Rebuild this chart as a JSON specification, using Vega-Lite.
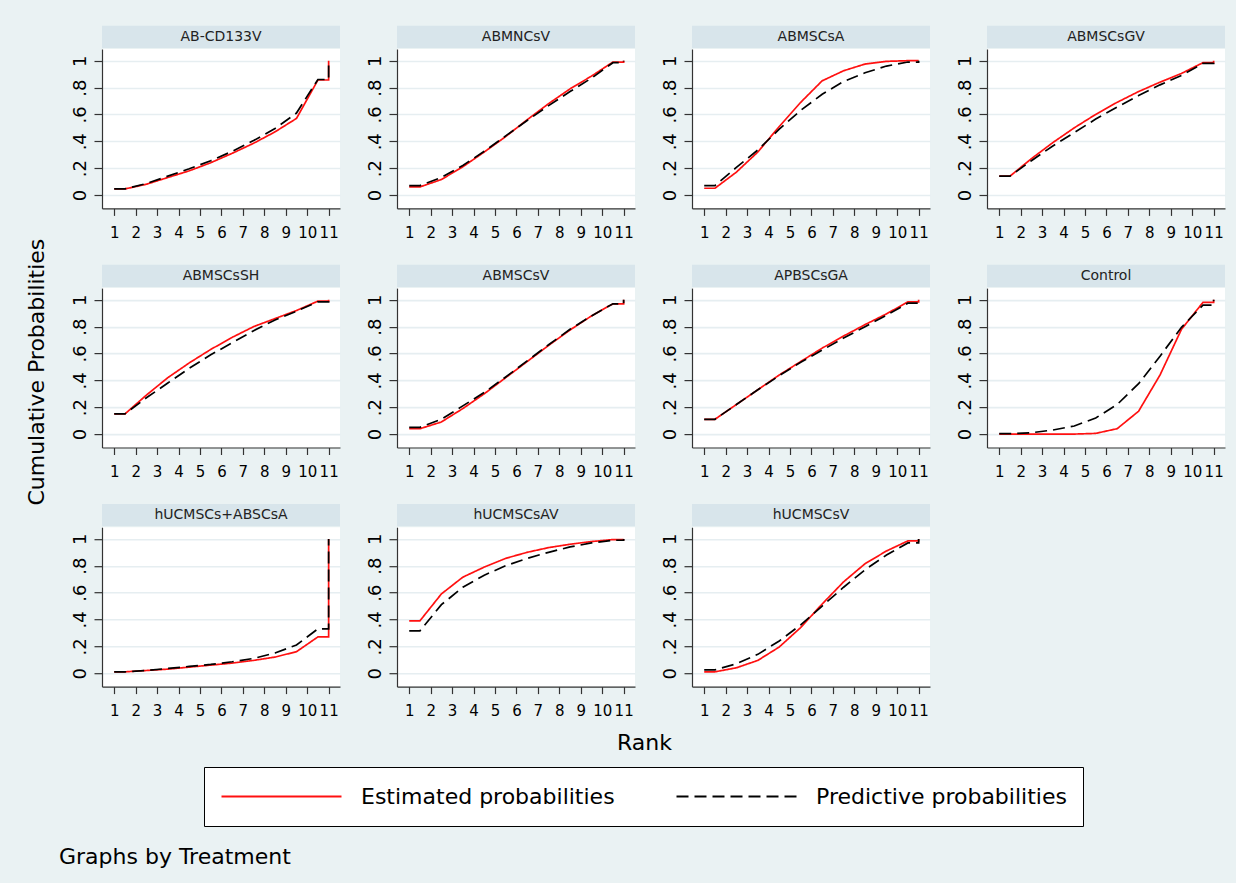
{
  "$schema": "https://vega.github.io/schema/vega-lite/v6.json",
  "background": "#EAF2F3",
  "padding": {"left": 25, "top": 25, "right": 13, "bottom": 17},
  "config": {
    "font": "DejaVu Sans",
    "view": {"fill": "white", "stroke": null},
    "concat": {"spacing": 0},
    "axis": {"labelOverlap": false},
    "header": {"labels": false, "labelFontSize": 0.01, "labelPadding": 0, "labelColor": "transparent"},
    "headerFacet": {"labels": false, "labelFontSize": 0.01, "labelPadding": 0, "labelColor": "transparent"},
    "title": {"font": "DejaVu Sans", "fontWeight": "normal", "color": "black", "fontSize": 22}
  },
  "data": {"values": [
{"t":"AB-CD133V","s":"Estimated probabilities","r":1,"p":0.045},{"t":"AB-CD133V","s":"Estimated probabilities","r":1.5,"p":0.045},{"t":"AB-CD133V","s":"Estimated probabilities","r":2.5,"p":0.08},{"t":"AB-CD133V","s":"Estimated probabilities","r":3.5,"p":0.13},{"t":"AB-CD133V","s":"Estimated probabilities","r":4.5,"p":0.18},{"t":"AB-CD133V","s":"Estimated probabilities","r":5.5,"p":0.24},{"t":"AB-CD133V","s":"Estimated probabilities","r":6.5,"p":0.31},{"t":"AB-CD133V","s":"Estimated probabilities","r":7.5,"p":0.385},{"t":"AB-CD133V","s":"Estimated probabilities","r":8.5,"p":0.47},{"t":"AB-CD133V","s":"Estimated probabilities","r":9.5,"p":0.57},{"t":"AB-CD133V","s":"Estimated probabilities","r":10.5,"p":0.856},{"t":"AB-CD133V","s":"Estimated probabilities","r":11,"p":0.856},{"t":"AB-CD133V","s":"Estimated probabilities","r":11,"p":1},
{"t":"AB-CD133V","s":"Predictive probabilities","r":1,"p":0.045},{"t":"AB-CD133V","s":"Predictive probabilities","r":1.5,"p":0.045},{"t":"AB-CD133V","s":"Predictive probabilities","r":2.5,"p":0.085},{"t":"AB-CD133V","s":"Predictive probabilities","r":3.5,"p":0.14},{"t":"AB-CD133V","s":"Predictive probabilities","r":4.5,"p":0.195},{"t":"AB-CD133V","s":"Predictive probabilities","r":5.5,"p":0.255},{"t":"AB-CD133V","s":"Predictive probabilities","r":6.5,"p":0.325},{"t":"AB-CD133V","s":"Predictive probabilities","r":7.5,"p":0.405},{"t":"AB-CD133V","s":"Predictive probabilities","r":8.5,"p":0.495},{"t":"AB-CD133V","s":"Predictive probabilities","r":9.5,"p":0.61},{"t":"AB-CD133V","s":"Predictive probabilities","r":10.5,"p":0.86},{"t":"AB-CD133V","s":"Predictive probabilities","r":11,"p":0.86},{"t":"AB-CD133V","s":"Predictive probabilities","r":11,"p":1},
{"t":"ABMNCsV","s":"Estimated probabilities","r":1,"p":0.06},{"t":"ABMNCsV","s":"Estimated probabilities","r":1.5,"p":0.06},{"t":"ABMNCsV","s":"Estimated probabilities","r":2.5,"p":0.115},{"t":"ABMNCsV","s":"Estimated probabilities","r":3.5,"p":0.21},{"t":"ABMNCsV","s":"Estimated probabilities","r":4.5,"p":0.32},{"t":"ABMNCsV","s":"Estimated probabilities","r":5.5,"p":0.435},{"t":"ABMNCsV","s":"Estimated probabilities","r":6.5,"p":0.56},{"t":"ABMNCsV","s":"Estimated probabilities","r":7.5,"p":0.68},{"t":"ABMNCsV","s":"Estimated probabilities","r":8.5,"p":0.79},{"t":"ABMNCsV","s":"Estimated probabilities","r":9.5,"p":0.885},{"t":"ABMNCsV","s":"Estimated probabilities","r":10.5,"p":0.99},{"t":"ABMNCsV","s":"Estimated probabilities","r":11,"p":0.99},{"t":"ABMNCsV","s":"Estimated probabilities","r":11,"p":1},
{"t":"ABMNCsV","s":"Predictive probabilities","r":1,"p":0.07},{"t":"ABMNCsV","s":"Predictive probabilities","r":1.5,"p":0.07},{"t":"ABMNCsV","s":"Predictive probabilities","r":2.5,"p":0.13},{"t":"ABMNCsV","s":"Predictive probabilities","r":3.5,"p":0.22},{"t":"ABMNCsV","s":"Predictive probabilities","r":4.5,"p":0.325},{"t":"ABMNCsV","s":"Predictive probabilities","r":5.5,"p":0.44},{"t":"ABMNCsV","s":"Predictive probabilities","r":6.5,"p":0.555},{"t":"ABMNCsV","s":"Predictive probabilities","r":7.5,"p":0.665},{"t":"ABMNCsV","s":"Predictive probabilities","r":8.5,"p":0.77},{"t":"ABMNCsV","s":"Predictive probabilities","r":9.5,"p":0.87},{"t":"ABMNCsV","s":"Predictive probabilities","r":10.5,"p":0.985},{"t":"ABMNCsV","s":"Predictive probabilities","r":11,"p":0.985},{"t":"ABMNCsV","s":"Predictive probabilities","r":11,"p":1},
{"t":"ABMSCsA","s":"Estimated probabilities","r":1,"p":0.05},{"t":"ABMSCsA","s":"Estimated probabilities","r":1.5,"p":0.05},{"t":"ABMSCsA","s":"Estimated probabilities","r":2.5,"p":0.17},{"t":"ABMSCsA","s":"Estimated probabilities","r":3.5,"p":0.32},{"t":"ABMSCsA","s":"Estimated probabilities","r":4.5,"p":0.51},{"t":"ABMSCsA","s":"Estimated probabilities","r":5.5,"p":0.69},{"t":"ABMSCsA","s":"Estimated probabilities","r":6.5,"p":0.85},{"t":"ABMSCsA","s":"Estimated probabilities","r":7.5,"p":0.925},{"t":"ABMSCsA","s":"Estimated probabilities","r":8.5,"p":0.975},{"t":"ABMSCsA","s":"Estimated probabilities","r":9.5,"p":0.995},{"t":"ABMSCsA","s":"Estimated probabilities","r":10.5,"p":1},{"t":"ABMSCsA","s":"Estimated probabilities","r":11,"p":1},{"t":"ABMSCsA","s":"Estimated probabilities","r":11,"p":1},
{"t":"ABMSCsA","s":"Predictive probabilities","r":1,"p":0.07},{"t":"ABMSCsA","s":"Predictive probabilities","r":1.5,"p":0.07},{"t":"ABMSCsA","s":"Predictive probabilities","r":2.5,"p":0.205},{"t":"ABMSCsA","s":"Predictive probabilities","r":3.5,"p":0.335},{"t":"ABMSCsA","s":"Predictive probabilities","r":4.5,"p":0.49},{"t":"ABMSCsA","s":"Predictive probabilities","r":5.5,"p":0.63},{"t":"ABMSCsA","s":"Predictive probabilities","r":6.5,"p":0.75},{"t":"ABMSCsA","s":"Predictive probabilities","r":7.5,"p":0.845},{"t":"ABMSCsA","s":"Predictive probabilities","r":8.5,"p":0.91},{"t":"ABMSCsA","s":"Predictive probabilities","r":9.5,"p":0.96},{"t":"ABMSCsA","s":"Predictive probabilities","r":10.5,"p":0.99},{"t":"ABMSCsA","s":"Predictive probabilities","r":11,"p":0.99},{"t":"ABMSCsA","s":"Predictive probabilities","r":11,"p":1},
{"t":"ABMSCsGV","s":"Estimated probabilities","r":1,"p":0.14},{"t":"ABMSCsGV","s":"Estimated probabilities","r":1.5,"p":0.14},{"t":"ABMSCsGV","s":"Estimated probabilities","r":2.5,"p":0.27},{"t":"ABMSCsGV","s":"Estimated probabilities","r":3.5,"p":0.39},{"t":"ABMSCsGV","s":"Estimated probabilities","r":4.5,"p":0.5},{"t":"ABMSCsGV","s":"Estimated probabilities","r":5.5,"p":0.6},{"t":"ABMSCsGV","s":"Estimated probabilities","r":6.5,"p":0.69},{"t":"ABMSCsGV","s":"Estimated probabilities","r":7.5,"p":0.77},{"t":"ABMSCsGV","s":"Estimated probabilities","r":8.5,"p":0.84},{"t":"ABMSCsGV","s":"Estimated probabilities","r":9.5,"p":0.905},{"t":"ABMSCsGV","s":"Estimated probabilities","r":10.5,"p":0.985},{"t":"ABMSCsGV","s":"Estimated probabilities","r":11,"p":0.985},{"t":"ABMSCsGV","s":"Estimated probabilities","r":11,"p":1},
{"t":"ABMSCsGV","s":"Predictive probabilities","r":1,"p":0.14},{"t":"ABMSCsGV","s":"Predictive probabilities","r":1.5,"p":0.14},{"t":"ABMSCsGV","s":"Predictive probabilities","r":2.5,"p":0.255},{"t":"ABMSCsGV","s":"Predictive probabilities","r":3.5,"p":0.365},{"t":"ABMSCsGV","s":"Predictive probabilities","r":4.5,"p":0.465},{"t":"ABMSCsGV","s":"Predictive probabilities","r":5.5,"p":0.565},{"t":"ABMSCsGV","s":"Predictive probabilities","r":6.5,"p":0.655},{"t":"ABMSCsGV","s":"Predictive probabilities","r":7.5,"p":0.74},{"t":"ABMSCsGV","s":"Predictive probabilities","r":8.5,"p":0.82},{"t":"ABMSCsGV","s":"Predictive probabilities","r":9.5,"p":0.89},{"t":"ABMSCsGV","s":"Predictive probabilities","r":10.5,"p":0.98},{"t":"ABMSCsGV","s":"Predictive probabilities","r":11,"p":0.98},{"t":"ABMSCsGV","s":"Predictive probabilities","r":11,"p":1},
{"t":"ABMSCsSH","s":"Estimated probabilities","r":1,"p":0.15},{"t":"ABMSCsSH","s":"Estimated probabilities","r":1.5,"p":0.15},{"t":"ABMSCsSH","s":"Estimated probabilities","r":2.5,"p":0.29},{"t":"ABMSCsSH","s":"Estimated probabilities","r":3.5,"p":0.42},{"t":"ABMSCsSH","s":"Estimated probabilities","r":4.5,"p":0.53},{"t":"ABMSCsSH","s":"Estimated probabilities","r":5.5,"p":0.63},{"t":"ABMSCsSH","s":"Estimated probabilities","r":6.5,"p":0.72},{"t":"ABMSCsSH","s":"Estimated probabilities","r":7.5,"p":0.8},{"t":"ABMSCsSH","s":"Estimated probabilities","r":8.5,"p":0.86},{"t":"ABMSCsSH","s":"Estimated probabilities","r":9.5,"p":0.92},{"t":"ABMSCsSH","s":"Estimated probabilities","r":10.5,"p":0.99},{"t":"ABMSCsSH","s":"Estimated probabilities","r":11,"p":0.99},{"t":"ABMSCsSH","s":"Estimated probabilities","r":11,"p":1},
{"t":"ABMSCsSH","s":"Predictive probabilities","r":1,"p":0.15},{"t":"ABMSCsSH","s":"Predictive probabilities","r":1.5,"p":0.15},{"t":"ABMSCsSH","s":"Predictive probabilities","r":2.5,"p":0.27},{"t":"ABMSCsSH","s":"Predictive probabilities","r":3.5,"p":0.38},{"t":"ABMSCsSH","s":"Predictive probabilities","r":4.5,"p":0.49},{"t":"ABMSCsSH","s":"Predictive probabilities","r":5.5,"p":0.59},{"t":"ABMSCsSH","s":"Predictive probabilities","r":6.5,"p":0.68},{"t":"ABMSCsSH","s":"Predictive probabilities","r":7.5,"p":0.77},{"t":"ABMSCsSH","s":"Predictive probabilities","r":8.5,"p":0.85},{"t":"ABMSCsSH","s":"Predictive probabilities","r":9.5,"p":0.915},{"t":"ABMSCsSH","s":"Predictive probabilities","r":10.5,"p":0.985},{"t":"ABMSCsSH","s":"Predictive probabilities","r":11,"p":0.985},{"t":"ABMSCsSH","s":"Predictive probabilities","r":11,"p":1},
{"t":"ABMSCsV","s":"Estimated probabilities","r":1,"p":0.04},{"t":"ABMSCsV","s":"Estimated probabilities","r":1.5,"p":0.04},{"t":"ABMSCsV","s":"Estimated probabilities","r":2.5,"p":0.09},{"t":"ABMSCsV","s":"Estimated probabilities","r":3.5,"p":0.19},{"t":"ABMSCsV","s":"Estimated probabilities","r":4.5,"p":0.3},{"t":"ABMSCsV","s":"Estimated probabilities","r":5.5,"p":0.42},{"t":"ABMSCsV","s":"Estimated probabilities","r":6.5,"p":0.54},{"t":"ABMSCsV","s":"Estimated probabilities","r":7.5,"p":0.66},{"t":"ABMSCsV","s":"Estimated probabilities","r":8.5,"p":0.775},{"t":"ABMSCsV","s":"Estimated probabilities","r":9.5,"p":0.88},{"t":"ABMSCsV","s":"Estimated probabilities","r":10.5,"p":0.97},{"t":"ABMSCsV","s":"Estimated probabilities","r":11,"p":0.97},{"t":"ABMSCsV","s":"Estimated probabilities","r":11,"p":1},
{"t":"ABMSCsV","s":"Predictive probabilities","r":1,"p":0.05},{"t":"ABMSCsV","s":"Predictive probabilities","r":1.5,"p":0.05},{"t":"ABMSCsV","s":"Predictive probabilities","r":2.5,"p":0.11},{"t":"ABMSCsV","s":"Predictive probabilities","r":3.5,"p":0.21},{"t":"ABMSCsV","s":"Predictive probabilities","r":4.5,"p":0.31},{"t":"ABMSCsV","s":"Predictive probabilities","r":5.5,"p":0.425},{"t":"ABMSCsV","s":"Predictive probabilities","r":6.5,"p":0.545},{"t":"ABMSCsV","s":"Predictive probabilities","r":7.5,"p":0.665},{"t":"ABMSCsV","s":"Predictive probabilities","r":8.5,"p":0.78},{"t":"ABMSCsV","s":"Predictive probabilities","r":9.5,"p":0.88},{"t":"ABMSCsV","s":"Predictive probabilities","r":10.5,"p":0.97},{"t":"ABMSCsV","s":"Predictive probabilities","r":11,"p":0.97},{"t":"ABMSCsV","s":"Predictive probabilities","r":11,"p":1},
{"t":"APBSCsGA","s":"Estimated probabilities","r":1,"p":0.11},{"t":"APBSCsGA","s":"Estimated probabilities","r":1.5,"p":0.11},{"t":"APBSCsGA","s":"Estimated probabilities","r":2.5,"p":0.22},{"t":"APBSCsGA","s":"Estimated probabilities","r":3.5,"p":0.33},{"t":"APBSCsGA","s":"Estimated probabilities","r":4.5,"p":0.44},{"t":"APBSCsGA","s":"Estimated probabilities","r":5.5,"p":0.54},{"t":"APBSCsGA","s":"Estimated probabilities","r":6.5,"p":0.64},{"t":"APBSCsGA","s":"Estimated probabilities","r":7.5,"p":0.73},{"t":"APBSCsGA","s":"Estimated probabilities","r":8.5,"p":0.815},{"t":"APBSCsGA","s":"Estimated probabilities","r":9.5,"p":0.895},{"t":"APBSCsGA","s":"Estimated probabilities","r":10.5,"p":0.985},{"t":"APBSCsGA","s":"Estimated probabilities","r":11,"p":0.985},{"t":"APBSCsGA","s":"Estimated probabilities","r":11,"p":1},
{"t":"APBSCsGA","s":"Predictive probabilities","r":1,"p":0.11},{"t":"APBSCsGA","s":"Predictive probabilities","r":1.5,"p":0.11},{"t":"APBSCsGA","s":"Predictive probabilities","r":2.5,"p":0.22},{"t":"APBSCsGA","s":"Predictive probabilities","r":3.5,"p":0.33},{"t":"APBSCsGA","s":"Predictive probabilities","r":4.5,"p":0.435},{"t":"APBSCsGA","s":"Predictive probabilities","r":5.5,"p":0.535},{"t":"APBSCsGA","s":"Predictive probabilities","r":6.5,"p":0.625},{"t":"APBSCsGA","s":"Predictive probabilities","r":7.5,"p":0.715},{"t":"APBSCsGA","s":"Predictive probabilities","r":8.5,"p":0.8},{"t":"APBSCsGA","s":"Predictive probabilities","r":9.5,"p":0.885},{"t":"APBSCsGA","s":"Predictive probabilities","r":10.5,"p":0.975},{"t":"APBSCsGA","s":"Predictive probabilities","r":11,"p":0.975},{"t":"APBSCsGA","s":"Predictive probabilities","r":11,"p":1},
{"t":"Control","s":"Estimated probabilities","r":1,"p":0},{"t":"Control","s":"Estimated probabilities","r":1.5,"p":0},{"t":"Control","s":"Estimated probabilities","r":2.5,"p":0},{"t":"Control","s":"Estimated probabilities","r":3.5,"p":0},{"t":"Control","s":"Estimated probabilities","r":4.5,"p":0},{"t":"Control","s":"Estimated probabilities","r":5.5,"p":0.005},{"t":"Control","s":"Estimated probabilities","r":6.5,"p":0.04},{"t":"Control","s":"Estimated probabilities","r":7.5,"p":0.17},{"t":"Control","s":"Estimated probabilities","r":8.5,"p":0.44},{"t":"Control","s":"Estimated probabilities","r":9.5,"p":0.78},{"t":"Control","s":"Estimated probabilities","r":10.5,"p":0.98},{"t":"Control","s":"Estimated probabilities","r":11,"p":0.98},{"t":"Control","s":"Estimated probabilities","r":11,"p":1},
{"t":"Control","s":"Predictive probabilities","r":1,"p":0.003},{"t":"Control","s":"Predictive probabilities","r":1.5,"p":0.003},{"t":"Control","s":"Predictive probabilities","r":2.5,"p":0.01},{"t":"Control","s":"Predictive probabilities","r":3.5,"p":0.03},{"t":"Control","s":"Predictive probabilities","r":4.5,"p":0.06},{"t":"Control","s":"Predictive probabilities","r":5.5,"p":0.12},{"t":"Control","s":"Predictive probabilities","r":6.5,"p":0.22},{"t":"Control","s":"Predictive probabilities","r":7.5,"p":0.375},{"t":"Control","s":"Predictive probabilities","r":8.5,"p":0.58},{"t":"Control","s":"Predictive probabilities","r":9.5,"p":0.795},{"t":"Control","s":"Predictive probabilities","r":10.5,"p":0.96},{"t":"Control","s":"Predictive probabilities","r":11,"p":0.96},{"t":"Control","s":"Predictive probabilities","r":11,"p":1},
{"t":"hUCMSCs+ABSCsA","s":"Estimated probabilities","r":1,"p":0.01},{"t":"hUCMSCs+ABSCsA","s":"Estimated probabilities","r":1.5,"p":0.01},{"t":"hUCMSCs+ABSCsA","s":"Estimated probabilities","r":2.5,"p":0.02},{"t":"hUCMSCs+ABSCsA","s":"Estimated probabilities","r":3.5,"p":0.03},{"t":"hUCMSCs+ABSCsA","s":"Estimated probabilities","r":4.5,"p":0.045},{"t":"hUCMSCs+ABSCsA","s":"Estimated probabilities","r":5.5,"p":0.06},{"t":"hUCMSCs+ABSCsA","s":"Estimated probabilities","r":6.5,"p":0.075},{"t":"hUCMSCs+ABSCsA","s":"Estimated probabilities","r":7.5,"p":0.095},{"t":"hUCMSCs+ABSCsA","s":"Estimated probabilities","r":8.5,"p":0.12},{"t":"hUCMSCs+ABSCsA","s":"Estimated probabilities","r":9.5,"p":0.16},{"t":"hUCMSCs+ABSCsA","s":"Estimated probabilities","r":10.5,"p":0.27},{"t":"hUCMSCs+ABSCsA","s":"Estimated probabilities","r":11,"p":0.27},{"t":"hUCMSCs+ABSCsA","s":"Estimated probabilities","r":11,"p":1},
{"t":"hUCMSCs+ABSCsA","s":"Predictive probabilities","r":1,"p":0.01},{"t":"hUCMSCs+ABSCsA","s":"Predictive probabilities","r":1.5,"p":0.01},{"t":"hUCMSCs+ABSCsA","s":"Predictive probabilities","r":2.5,"p":0.02},{"t":"hUCMSCs+ABSCsA","s":"Predictive probabilities","r":3.5,"p":0.035},{"t":"hUCMSCs+ABSCsA","s":"Predictive probabilities","r":4.5,"p":0.05},{"t":"hUCMSCs+ABSCsA","s":"Predictive probabilities","r":5.5,"p":0.065},{"t":"hUCMSCs+ABSCsA","s":"Predictive probabilities","r":6.5,"p":0.085},{"t":"hUCMSCs+ABSCsA","s":"Predictive probabilities","r":7.5,"p":0.11},{"t":"hUCMSCs+ABSCsA","s":"Predictive probabilities","r":8.5,"p":0.15},{"t":"hUCMSCs+ABSCsA","s":"Predictive probabilities","r":9.5,"p":0.21},{"t":"hUCMSCs+ABSCsA","s":"Predictive probabilities","r":10.5,"p":0.33},{"t":"hUCMSCs+ABSCsA","s":"Predictive probabilities","r":11,"p":0.33},{"t":"hUCMSCs+ABSCsA","s":"Predictive probabilities","r":11,"p":1},
{"t":"hUCMSCsAV","s":"Estimated probabilities","r":1,"p":0.39},{"t":"hUCMSCsAV","s":"Estimated probabilities","r":1.5,"p":0.39},{"t":"hUCMSCsAV","s":"Estimated probabilities","r":2.5,"p":0.59},{"t":"hUCMSCsAV","s":"Estimated probabilities","r":3.5,"p":0.715},{"t":"hUCMSCsAV","s":"Estimated probabilities","r":4.5,"p":0.79},{"t":"hUCMSCsAV","s":"Estimated probabilities","r":5.5,"p":0.855},{"t":"hUCMSCsAV","s":"Estimated probabilities","r":6.5,"p":0.9},{"t":"hUCMSCsAV","s":"Estimated probabilities","r":7.5,"p":0.935},{"t":"hUCMSCsAV","s":"Estimated probabilities","r":8.5,"p":0.96},{"t":"hUCMSCsAV","s":"Estimated probabilities","r":9.5,"p":0.98},{"t":"hUCMSCsAV","s":"Estimated probabilities","r":10.5,"p":0.995},{"t":"hUCMSCsAV","s":"Estimated probabilities","r":11,"p":0.995},{"t":"hUCMSCsAV","s":"Estimated probabilities","r":11,"p":1},
{"t":"hUCMSCsAV","s":"Predictive probabilities","r":1,"p":0.315},{"t":"hUCMSCsAV","s":"Predictive probabilities","r":1.5,"p":0.315},{"t":"hUCMSCsAV","s":"Predictive probabilities","r":2.5,"p":0.51},{"t":"hUCMSCsAV","s":"Predictive probabilities","r":3.5,"p":0.64},{"t":"hUCMSCsAV","s":"Predictive probabilities","r":4.5,"p":0.73},{"t":"hUCMSCsAV","s":"Predictive probabilities","r":5.5,"p":0.8},{"t":"hUCMSCsAV","s":"Predictive probabilities","r":6.5,"p":0.855},{"t":"hUCMSCsAV","s":"Predictive probabilities","r":7.5,"p":0.9},{"t":"hUCMSCsAV","s":"Predictive probabilities","r":8.5,"p":0.94},{"t":"hUCMSCsAV","s":"Predictive probabilities","r":9.5,"p":0.97},{"t":"hUCMSCsAV","s":"Predictive probabilities","r":10.5,"p":0.99},{"t":"hUCMSCsAV","s":"Predictive probabilities","r":11,"p":0.99},{"t":"hUCMSCsAV","s":"Predictive probabilities","r":11,"p":1},
{"t":"hUCMSCsV","s":"Estimated probabilities","r":1,"p":0.01},{"t":"hUCMSCsV","s":"Estimated probabilities","r":1.5,"p":0.01},{"t":"hUCMSCsV","s":"Estimated probabilities","r":2.5,"p":0.04},{"t":"hUCMSCsV","s":"Estimated probabilities","r":3.5,"p":0.095},{"t":"hUCMSCsV","s":"Estimated probabilities","r":4.5,"p":0.195},{"t":"hUCMSCsV","s":"Estimated probabilities","r":5.5,"p":0.34},{"t":"hUCMSCsV","s":"Estimated probabilities","r":6.5,"p":0.515},{"t":"hUCMSCsV","s":"Estimated probabilities","r":7.5,"p":0.68},{"t":"hUCMSCsV","s":"Estimated probabilities","r":8.5,"p":0.815},{"t":"hUCMSCsV","s":"Estimated probabilities","r":9.5,"p":0.91},{"t":"hUCMSCsV","s":"Estimated probabilities","r":10.5,"p":0.985},{"t":"hUCMSCsV","s":"Estimated probabilities","r":11,"p":0.985},{"t":"hUCMSCsV","s":"Estimated probabilities","r":11,"p":1},
{"t":"hUCMSCsV","s":"Predictive probabilities","r":1,"p":0.025},{"t":"hUCMSCsV","s":"Predictive probabilities","r":1.5,"p":0.025},{"t":"hUCMSCsV","s":"Predictive probabilities","r":2.5,"p":0.07},{"t":"hUCMSCsV","s":"Predictive probabilities","r":3.5,"p":0.14},{"t":"hUCMSCsV","s":"Predictive probabilities","r":4.5,"p":0.24},{"t":"hUCMSCsV","s":"Predictive probabilities","r":5.5,"p":0.36},{"t":"hUCMSCsV","s":"Predictive probabilities","r":6.5,"p":0.5},{"t":"hUCMSCsV","s":"Predictive probabilities","r":7.5,"p":0.64},{"t":"hUCMSCsV","s":"Predictive probabilities","r":8.5,"p":0.77},{"t":"hUCMSCsV","s":"Predictive probabilities","r":9.5,"p":0.88},{"t":"hUCMSCsV","s":"Predictive probabilities","r":10.5,"p":0.97},{"t":"hUCMSCsV","s":"Predictive probabilities","r":11,"p":0.97},{"t":"hUCMSCsV","s":"Predictive probabilities","r":11,"p":1}
  ]},
  "title": {"text": "Graphs by Treatment", "orient": "bottom", "anchor": "start", "frame": "bounds", "offset": 20, "dx": 33},
  "resolve": {"scale": {"color": "shared", "strokeDash": "shared"}, "legend": {"color": "shared", "strokeDash": "shared"}},
  "vconcat": [
    {
      "title": {"text": "Rank", "orient": "bottom", "anchor": "middle", "frame": "bounds", "offset": 14, "dx": 19},
      "resolve": {"scale": {"color": "shared", "strokeDash": "shared"}, "legend": {"color": "shared", "strokeDash": "shared"}},
      "vconcat": [
        {
          "title": {"text": "Cumulative Probabilities", "orient": "left", "anchor": "middle", "frame": "bounds", "offset": 22},
          "facet": {"field": "t", "type": "nominal", "sort": ["AB-CD133V","ABMNCsV","ABMSCsA","ABMSCsGV","ABMSCsSH","ABMSCsV","APBSCsGA","Control","hUCMSCs+ABSCsA","hUCMSCsAV","hUCMSCsV"],
            "header": {"labels": false, "labelExpr": "''", "labelFontSize": 0.01, "labelPadding": 0, "title": null}},
          "columns": 4,
          "spacing": {"row": 79.1, "column": 57},
          "bounds": "flush",
          "resolve": {"axis": {"x": "independent", "y": "independent"}},
          "spec": {
            "width": 238,
            "height": 159.4,
            "layer": [
              {
                "mark": {"type": "line", "strokeWidth": 1.7},
                "encoding": {
                  "x": {"field": "r", "type": "quantitative",
                    "scale": {"domain": [0.43, 11.53], "nice": false, "zero": false},
                    "axis": {"values": [1,2,3,4,5,6,7,8,9,10,11], "title": null, "grid": false, "format": "d",
                      "labelFontSize": 15, "labelColor": "black", "labelPadding": 10, "labelOverlap": false, "labelFlush": false, "labelBound": false,
                      "tickSize": 7, "tickColor": "#333333", "tickWidth": 1.2, "domainColor": "#333333", "domainWidth": 1.2}},
                  "y": {"field": "p", "type": "quantitative",
                    "scale": {"domain": [-0.1, 1.087], "nice": false, "zero": false},
                    "axis": {"values": [0, 0.2, 0.4, 0.6, 0.8, 1], "title": null, "grid": true, "gridColor": "#E6EEF1", "gridWidth": 1.6,
                      "labelExpr": "datum.value == 0 ? '0' : datum.value == 1 ? '1' : replace(format(datum.value, '.1f'), '0.', '.')",
                      "labelAngle": 270, "labelAlign": "center", "labelBaseline": "bottom", "labelFontSize": 18, "labelColor": "black", "labelPadding": 5,
                      "labelOverlap": false, "labelFlush": false, "labelBound": false,
                      "tickSize": 8, "tickColor": "#333333", "tickWidth": 1.2, "domainColor": "#333333", "domainWidth": 1.2}},
                  "color": {"field": "s", "type": "nominal",
                    "scale": {"domain": ["Estimated probabilities", "Predictive probabilities"], "range": ["#FF1010", "#000000"]},
                    "legend": {"title": null, "orient": "none", "legendX": 102, "legendY": 718, "direction": "horizontal", "columns": 2,
                      "symbolType": "stroke", "symbolSize": 14400, "symbolStrokeWidth": 2.2, "clipHeight": 27,
                      "labelFontSize": 22, "labelFont": "DejaVu Sans", "labelColor": "black", "labelOffset": 18, "labelLimit": 500,
                      "columnPadding": 60, "padding": 16, "strokeColor": "black", "fillColor": "white"}},
                  "strokeDash": {"field": "s", "type": "nominal",
                    "scale": {"domain": ["Estimated probabilities", "Predictive probabilities"], "range": [[1, 0], [12, 6]]},
                    "legend": {"title": null, "orient": "none", "legendX": 102, "legendY": 718, "direction": "horizontal", "columns": 2,
                      "symbolType": "stroke", "symbolSize": 14400, "symbolStrokeWidth": 2.2, "clipHeight": 27,
                      "labelFontSize": 22, "labelFont": "DejaVu Sans", "labelColor": "black", "labelOffset": 18, "labelLimit": 500,
                      "columnPadding": 60, "padding": 16, "strokeColor": "black", "fillColor": "white"}}
                }
              },
              {
                "transform": [{"aggregate": [{"op": "count", "as": "n"}], "groupby": ["t"]}],
                "mark": {"type": "rect", "color": "#D8E5EB", "clip": false},
                "encoding": {
                  "x": {"datum": 0.43, "type": "quantitative",
                    "axis": {"values": [1,2,3,4,5,6,7,8,9,10,11], "title": null, "grid": false, "format": "d",
                      "labelFontSize": 15, "labelColor": "black", "labelPadding": 10, "labelOverlap": false, "labelFlush": false, "labelBound": false,
                      "tickSize": 7, "tickColor": "#333333", "tickWidth": 1.2, "domainColor": "#333333", "domainWidth": 1.2}},
                  "x2": {"datum": 11.53},
                  "y": {"datum": 1.0946, "type": "quantitative",
                    "axis": {"values": [0, 0.2, 0.4, 0.6, 0.8, 1], "title": null, "grid": true, "gridColor": "#E6EEF1", "gridWidth": 1.6,
                      "labelExpr": "datum.value == 0 ? '0' : datum.value == 1 ? '1' : replace(format(datum.value, '.1f'), '0.', '.')",
                      "labelAngle": 270, "labelAlign": "center", "labelBaseline": "bottom", "labelFontSize": 18, "labelColor": "black", "labelPadding": 5,
                      "labelOverlap": false, "labelFlush": false, "labelBound": false,
                      "tickSize": 8, "tickColor": "#333333", "tickWidth": 1.2, "domainColor": "#333333", "domainWidth": 1.2}},
                  "y2": {"datum": 1.2606}
                }
              },
              {
                "transform": [{"aggregate": [{"op": "count", "as": "n"}], "groupby": ["t"]}],
                "mark": {"type": "text", "fontSize": 14, "color": "#222222", "align": "center", "baseline": "middle", "clip": false},
                "encoding": {
                  "x": {"datum": 5.98, "type": "quantitative",
                    "axis": {"values": [1,2,3,4,5,6,7,8,9,10,11], "title": null, "grid": false, "format": "d",
                      "labelFontSize": 15, "labelColor": "black", "labelPadding": 10, "labelOverlap": false, "labelFlush": false, "labelBound": false,
                      "tickSize": 7, "tickColor": "#333333", "tickWidth": 1.2, "domainColor": "#333333", "domainWidth": 1.2}},
                  "y": {"datum": 1.1776, "type": "quantitative",
                    "axis": {"values": [0, 0.2, 0.4, 0.6, 0.8, 1], "title": null, "grid": true, "gridColor": "#E6EEF1", "gridWidth": 1.6,
                      "labelExpr": "datum.value == 0 ? '0' : datum.value == 1 ? '1' : replace(format(datum.value, '.1f'), '0.', '.')",
                      "labelAngle": 270, "labelAlign": "center", "labelBaseline": "bottom", "labelFontSize": 18, "labelColor": "black", "labelPadding": 5,
                      "labelOverlap": false, "labelFlush": false, "labelBound": false,
                      "tickSize": 8, "tickColor": "#333333", "tickWidth": 1.2, "domainColor": "#333333", "domainWidth": 1.2}},
                  "text": {"field": "t", "type": "nominal"}
                }
              }
            ]
          }
        }
      ]
    }
  ]
}
